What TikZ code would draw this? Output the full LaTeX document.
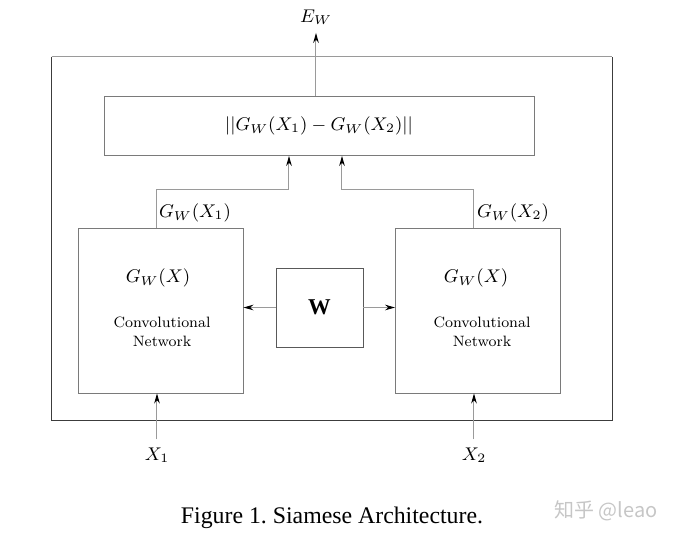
\RequirePackage{fix-cm}
\documentclass[tikz,border=0pt]{standalone}
\usepackage{fontspec}
\newfontfamily\capfont{Liberation Serif}
\newfontfamily\cjkfont{Noto Sans CJK SC}
\usetikzlibrary{arrows.meta}
\definecolor{boxgray}{HTML}{7A7A7A}
\definecolor{linkgray}{HTML}{9A9A9A}
\definecolor{framegray}{HTML}{3C3C3C}
\frenchspacing
\begin{document}
\begin{tikzpicture}[x=0.5pt,y=-0.5pt,>={Stealth[length=5pt,width=2.8pt,color=black]},
  box/.style={draw=boxgray,line width=0.45pt,inner sep=0pt},
  link/.style={draw=linkgray,line width=0.5pt},
  mathlbl/.style={font=\fontsize{9.2}{11}\selectfont,inner sep=4pt},
  txt/.style={font=\fontsize{7.5}{9.5}\selectfont,align=center,inner sep=0pt}]
\useasboundingbox (0,0) rectangle (677,537);
% outer frame and blocks
\node[minimum width=280pt,minimum height=181.5pt,inner sep=0pt] (frame) at (332,238.5) {};
\draw[framegray,line width=0.45pt] (frame.north west) -- (frame.south west) -- (frame.south east) -- (frame.north east);
\draw[link] (frame.north west) -- (frame.north east);
\node[box,minimum width=215pt,minimum height=29.5pt,mathlbl] (dist) at (319,126) {$||G_W(X_1)-G_W(X_2)||$};
\node[box,minimum size=82.5pt] (netA) at (160.5,310.5) {};
\node[box,minimum size=82.5pt] (netB) at (478,310.5) {};
\node[box,draw=framegray!85,minimum width=43.5pt,minimum height=39.5pt,font=\capfont\bfseries\fontsize{11.3}{13}\selectfont] (wbox) at (319.5,307.5) {W};
% texts inside the networks
\node[mathlbl] (gA) at (158,278) {$G_W(X)$};
\node[txt] (cA) at (162,332) {Convolutional\\Network};
\node[mathlbl] (gB) at (476,278) {$G_W(X)$};
\node[txt] (cB) at (482,332) {Convolutional\\Network};
% outputs of the networks
\coordinate (jA) at (157,189);
\coordinate (kA) at (289,189);
\coordinate (jB) at (474,189);
\coordinate (kB) at (342,189);
\draw[link,->] (netA.north -| jA) -- (jA) -- (kA) -- (kA |- dist.south);
\draw[link,->] (netB.north -| jB) -- (jB) -- (kB) -- (kB |- dist.south);
\node[mathlbl] (oA) at (195,213) {$G_W(X_1)$};
\node[mathlbl] (oB) at (513,213) {$G_W(X_2)$};
% shared weights
\draw[link,->] (wbox.west) -- (netA.east |- wbox.west);
\draw[link,->] (wbox.east) -- (netB.west |- wbox.east);
% inputs and energy
\node[mathlbl] (x1) at (157,455) {$X_1$};
\node[mathlbl] (x2) at (474,455) {$X_2$};
\draw[link,->] (x1.north) -- (netA.south -| x1);
\draw[link,->] (x2.north) -- (netB.south -| x2);
\node[mathlbl] (ew) at (316,17) {$E_W$};
\draw[link,->] (dist.north -| ew) -- (ew.south);
% caption
\node[font=\capfont\fontsize{11.9}{14}\selectfont] (cap) at (332,518) {Figure 1. Siamese Architecture.};
\node[font=\cjkfont\fontsize{10}{12}\selectfont,text=gray!45] (mark) at (606,511) {知乎 @leao};
\end{tikzpicture}
\end{document}
